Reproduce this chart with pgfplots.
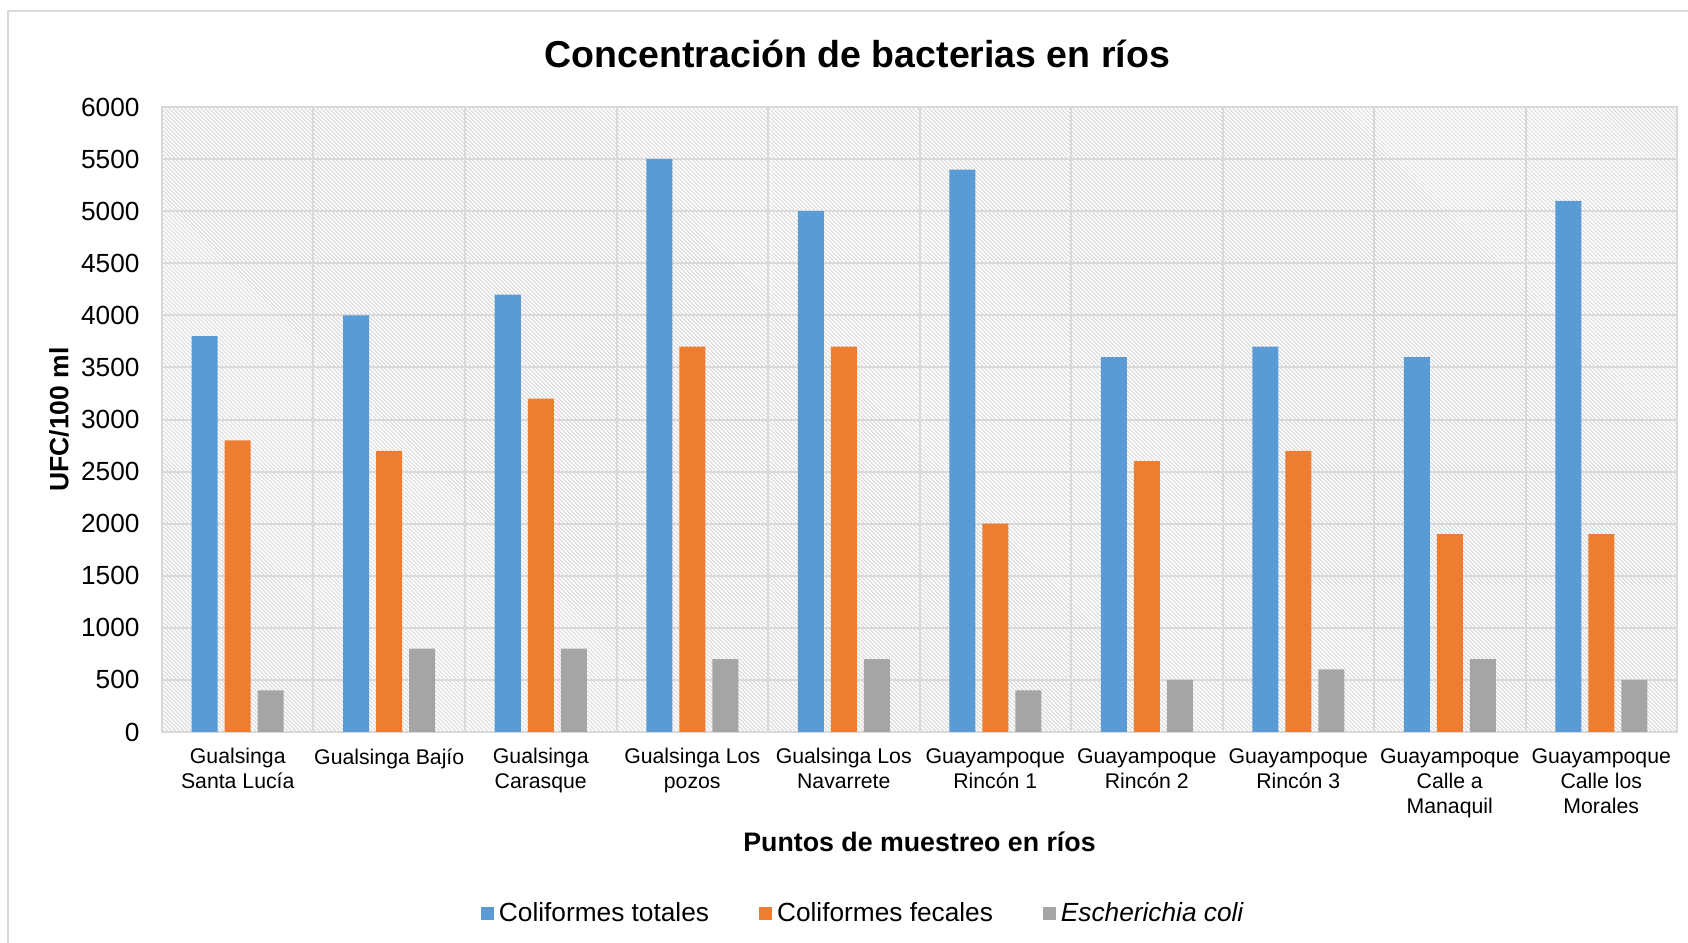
\documentclass[border=0pt]{standalone}
\usepackage{fontspec}
\setmainfont{Liberation Sans}
\usepackage{pgfplots}
\pgfplotsset{compat=1.18}
\usetikzlibrary{patterns.meta}

\definecolor{ctot}{HTML}{5B9BD5}
\definecolor{cfec}{HTML}{ED7D31}
\definecolor{ecol}{HTML}{A5A5A5}
\definecolor{gridc}{HTML}{D9D9D9}
\definecolor{hatch}{HTML}{D8D8D8}

\begin{document}
\begin{tikzpicture}
\useasboundingbox (-64.8pt,-84.4pt) rectangle (610.4pt,292.8pt);
\draw[gridc, line width=0.8pt] (-61.6pt,-120pt) rectangle (660pt,288.4pt);
\begin{axis}[
    at={(0,0)}, anchor=south west,
    scale only axis, width=606pt, height=250pt,
    xmin=0.5, xmax=10.5,
    ymin=0, ymax=6000,
    xtick={1,...,10},
    minor xtick={1.5,2.5,...,9.5},
    ytick={0,500,...,6000},
    xticklabels={
        {Gualsinga\\Santa Lucía},
        {Gualsinga Bajío},
        {Gualsinga\\Carasque},
        {Gualsinga Los\\pozos},
        {Gualsinga Los\\Navarrete},
        {Guayampoque\\Rincón 1},
        {Guayampoque\\Rincón 2},
        {Guayampoque\\Rincón 3},
        {Guayampoque\\Calle a\\Manaquil},
        {Guayampoque\\Calle los\\Morales}},
    major tick length=0pt, minor tick length=0pt,
    xminorgrids=true, ymajorgrids=true,
    grid style={gridc, line width=0.8pt},
    minor grid style={gridc, line width=0.8pt},
    axis line style={gridc, line width=0.8pt},
    axis background/.style={pattern={Lines[angle=-45,distance=1.131pt,line width=0.4pt]}, pattern color=hatch},
    /pgf/number format/assume math mode=true,
    /pgf/number format/1000 sep={},
    yticklabel style={font=\fontsize{10.5}{12}\selectfont, inner sep=0pt, xshift=-8.8pt},
    xticklabel style={font=\fontsize{8.5}{10}\selectfont, align=center, anchor=north, inner sep=0pt, yshift=-6.4pt},
    title={Concentración de bacterias en ríos},
    title style={font=\bfseries\fontsize{15}{18}\selectfont, at={(0.459,1.061)}, anchor=center},
    xlabel={Puntos de muestreo en ríos},
    xlabel style={font=\bfseries\fontsize{10.7}{13}\selectfont, at={(0.5,-0.176)}, anchor=center},
    ylabel={UFC/100 ml},
    ylabel style={font=\bfseries\fontsize{10.6}{13}\selectfont, at={(-0.068,0.5)}, anchor=center},
    legend columns=3,
    legend style={draw=none, fill=none, at={(0.464,-0.291)}, anchor=center,
        font=\fontsize{10.5}{12}\selectfont,
        /tikz/every odd column/.append style={column sep=0pt},
        /tikz/every even column/.append style={column sep=18pt}},
    legend image code/.code={\fill[#1] (0pt,-2.6pt) rectangle (5.2pt,2.6pt);},
]
\addplot[ybar, bar width=10.4pt, bar shift=-13.2pt, fill=ctot, draw=none] coordinates {
    (1,3800) (2,4000) (3,4200) (4,5500) (5,5000)
    (6,5400) (7,3600) (8,3700) (9,3600) (10,5100)
};
\addplot[ybar, bar width=10.4pt, bar shift=0pt, fill=cfec, draw=none] coordinates {
    (1,2800) (2,2700) (3,3200) (4,3700) (5,3700)
    (6,2000) (7,2600) (8,2700) (9,1900) (10,1900)
};
\addplot[ybar, bar width=10.4pt, bar shift=13.2pt, fill=ecol, draw=none] coordinates {
    (1,400) (2,800) (3,800) (4,700) (5,700)
    (6,400) (7,500) (8,600) (9,700) (10,500)
};
\legend{Coliformes totales, Coliformes fecales, \textit{Escherichia coli}}
\end{axis}
\end{tikzpicture}
\end{document}
